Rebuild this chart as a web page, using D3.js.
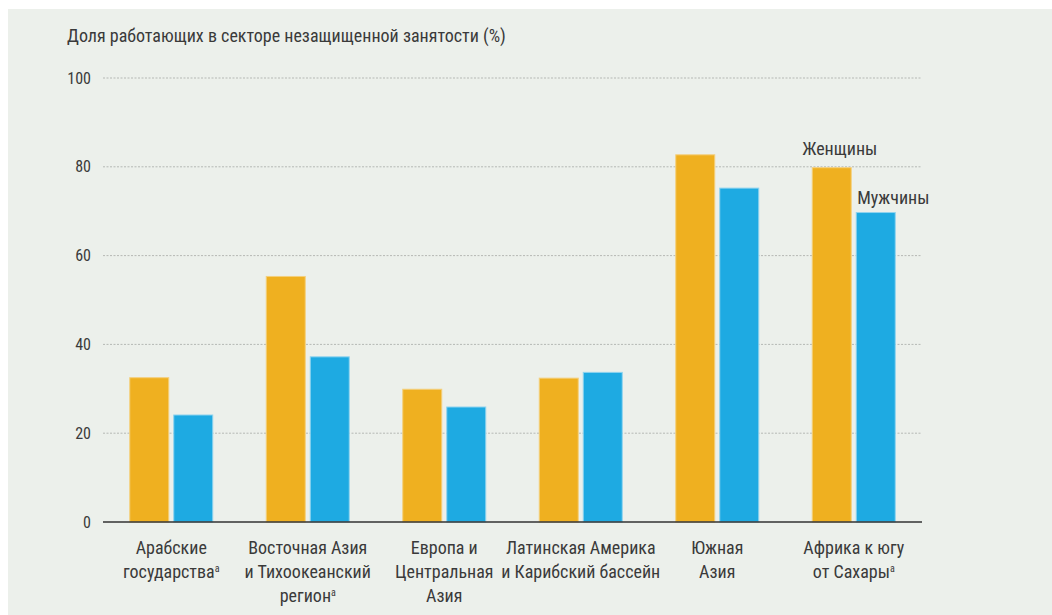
<!DOCTYPE html>
<html>
<head>
<meta charset="utf-8">
<script src="https://cdn.jsdelivr.net/npm/d3@7"></script>
<style>
  body { margin: 0; background: #fff; }
  svg text { font-family: "Liberation Sans Narrow", "Roboto Condensed", "Liberation Sans", sans-serif; fill: #3a3a3a; }
</style>
</head>
<body>
<div id="root"></div>
<script>
// data
const regions = [
    ["Арабские", "государства|а"],
    ["Восточная Азия", "и Тихоокеанский", "регион|а"],
    ["Европа и", "Центральная", "Азия"],
    ["Латинская Америка", "и Карибский бассейн"],
    ["Южная", "Азия"],
    ["Африка к югу", "от Сахары|а"]
];
const women = [32.5, 55.3, 29.9, 32.4, 82.7, 79.8];
const men = [24.1, 37.2, 25.9, 33.7, 75.2, 69.7];
const yTicks = [0, 20, 40, 60, 80, 100];

const W = 1052, H = 615;
const margin = {top: 78, left: 103, right: 130, bottom: 93};
const width = W - margin.left - margin.right,
    height = H - margin.top - margin.bottom;

const orange = "#efb020", blue = "#1eaae2";

const svg = d3.select("#root").append("svg")
    .attr("width", W)
    .attr("height", H);

// panel background
svg.append("rect")
    .attr("x", 8).attr("y", 9)
    .attr("width", W - 8).attr("height", H - 9)
    .attr("fill", "#ecf0eb");

svg.append("text")
    .attr("x", 67).attr("y", 42)
    .style("font-size", "18px")
    .text("Доля работающих в секторе незащищенной занятости (%)");

const g = svg.append("g")
    .attr("transform", "translate(" + margin.left + "," + margin.top + ")");

// scales
const x0 = d3.scaleBand().domain(d3.range(regions.length)).range([0, width]).padding(0);
const y = d3.scaleLinear().domain([0, 100]).range([height, 0]);

// grid
g.selectAll(".grid")
    .data(yTicks.filter(d => d > 0))
    .enter().append("line")
    .attr("x1", 0).attr("x2", width)
    .attr("y1", d => y(d)).attr("y2", d => y(d))
    .attr("stroke", "#b5b8b4")
    .attr("stroke-width", 1)
    .attr("stroke-dasharray", "2,1.5");

// y tick labels
g.selectAll(".ytick")
    .data(yTicks)
    .enter().append("text")
    .attr("x", -12)
    .attr("y", d => y(d))
    .attr("dy", "0.35em")
    .attr("text-anchor", "end")
    .style("font-size", "16px")
    .text(d => d);

// bars
const barW = 39, gap = 5;
const groups = g.selectAll(".grp")
    .data(regions.map((r, i) => ({i: i, w: women[i], m: men[i]})))
    .enter().append("g")
    .attr("transform", d => "translate(" + (x0(d.i) + x0.bandwidth() / 2) + ",0)");

groups.append("rect")
    .attr("x", -barW - gap / 2)
    .attr("width", barW)
    .attr("y", d => y(d.w))
    .attr("height", d => height - y(d.w))
    .attr("fill", orange)
    .attr("stroke", "#f4cf7c").attr("stroke-width", 1);

groups.append("rect")
    .attr("x", gap / 2)
    .attr("width", barW)
    .attr("y", d => y(d.m))
    .attr("height", d => height - y(d.m))
    .attr("fill", blue)
    .attr("stroke", "#8fd3ef").attr("stroke-width", 1);

// baseline
g.append("line")
    .attr("x1", 0).attr("x2", width)
    .attr("y1", height).attr("y2", height)
    .attr("stroke", "#333").attr("stroke-width", 1.5);

// category labels
groups.each(function(d) {
    const t = d3.select(this).append("text")
        .attr("text-anchor", "middle")
        .style("font-size", "18px");
    regions[d.i].forEach((line, k) => {
        const parts = line.split("|");
        t.append("tspan")
            .attr("x", 0)
            .attr("y", height + 32 + k * 24)
            .text(parts[0]);
        if (parts[1]) {
            t.append("tspan")
                .attr("dy", -6)
                .style("font-size", "10px")
                .text(parts[1]);
        }
    });
});

// legend labels next to last group
const last = regions.length - 1;
const cx = x0(last) + x0.bandwidth() / 2;
g.append("text")
    .attr("x", cx - barW / 2 - gap / 2 + 8)
    .attr("y", y(women[last]) - 13)
    .attr("text-anchor", "middle")
    .style("font-size", "18px")
    .text("Женщины");
g.append("text")
    .attr("x", cx + gap / 2 + 1)
    .attr("y", y(men[last]) - 9)
    .style("font-size", "18px")
    .text("Мужчины");
</script>
</body>
</html>
